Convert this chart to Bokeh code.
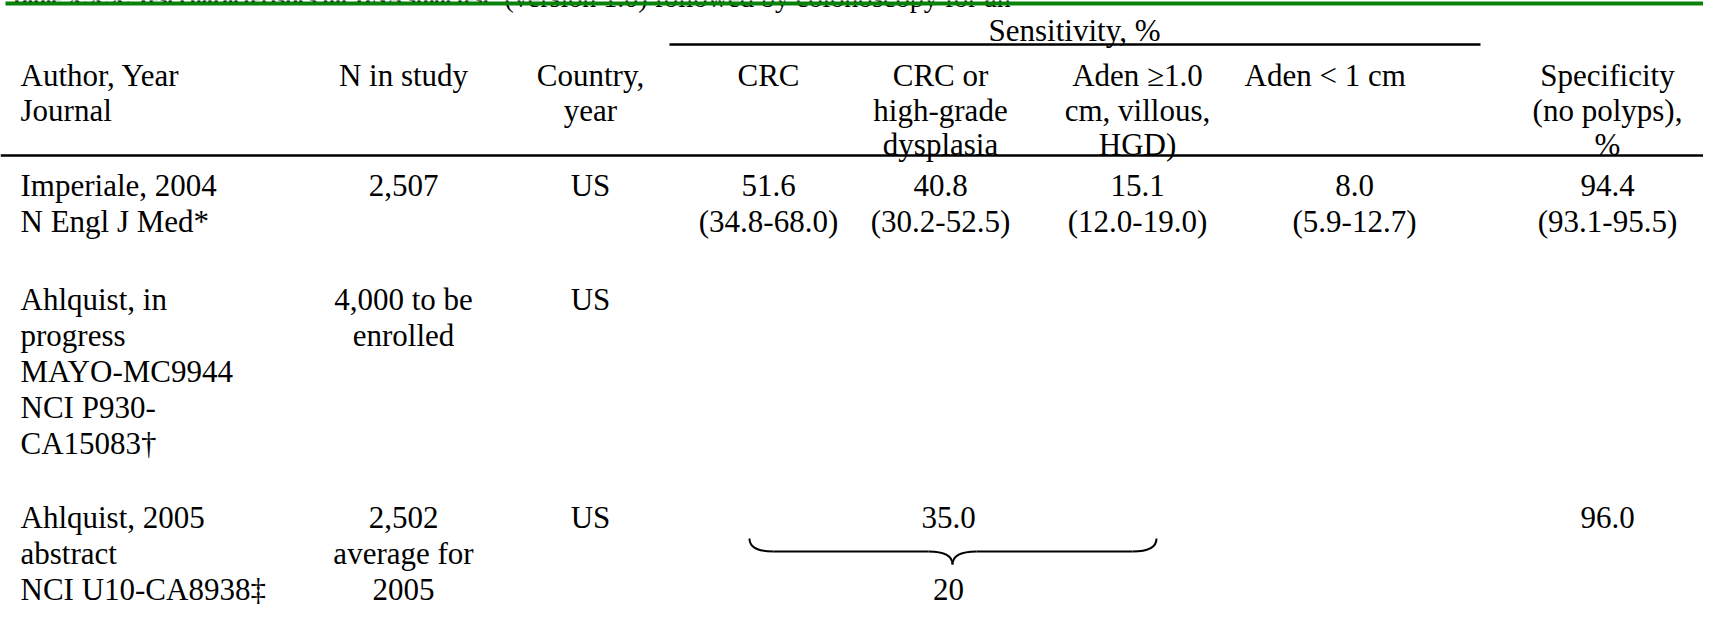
from bokeh.plotting import figure
from bokeh.models import Range1d, ColumnDataSource
from bokeh.embed import file_html
from bokeh.resources import INLINE
from bokeh.core.properties import value

# ---------------- data (table contents) ----------------
title_bold = "Table X.X.X. Test characteristics for DNA stool test"
title_rest = "(version 1.0) followed by colonoscopy for an"

group_header = "Sensitivity, %"
col_headers = [
    ["Author, Year", "Journal"],
    ["N in study"],
    ["Country,", "year"],
    ["CRC"],
    ["CRC or", "high-grade", "dysplasia"],
    ["Aden \u22651.0", "cm, villous,", "HGD)"],
    ["Aden < 1 cm"],
    ["Specificity", "(no polyps),", "%"],
]

authors = [
    ["Imperiale, 2004", "N Engl J Med*"],
    ["Ahlquist, in", "progress", "MAYO-MC9944", "NCI P930-", "CA15083\u2020"],
    ["Ahlquist, 2005", "abstract", "NCI U10-CA8938\u2021"],
]
n_in_study = [["2,507"], ["4,000 to be", "enrolled"], ["2,502", "average for", "2005"]]
country = [["US"], ["US"], ["US"]]
crc = [["51.6", "(34.8-68.0)"], [], []]
crc_hgd = [["40.8", "(30.2-52.5)"], [], []]
aden_ge1 = [["15.1", "(12.0-19.0)"], [], []]
aden_lt1 = [["8.0", "(5.9-12.7)"], [], []]
specificity = [["94.4", "(93.1-95.5)"], [], ["96.0"]]
pooled_sens = "35.0"
pooled_n = "20"

# ---------------- layout (reference pixel coordinates) ----------------
W, H = 1703, 624
OX, OY = 8, 8


def X(v):
    return v - OX


def Y(v):
    return v - OY


FONT = value("Liberation Serif")
FS = "31px"

col_x = [28, 411, 598, 776, 948, 1145, 1362, 1615]
col_align = ["left"] + ["center"] * 7
header_x_override = {6: (1252, "left")}
header_base = [83, 117.5, 152]
row_base = [[193, 229], [307, 343, 379, 415, 451], [525, 561, 597]]

p = figure(width=W, height=H, x_range=Range1d(0, W), y_range=Range1d(H, 0),
           output_backend="svg", toolbar_location=None, min_border=0)
p.axis.visible = False
p.grid.visible = False
p.outline_line_color = None
p.background_fill_color = "white"
p.border_fill_color = "white"

cells = {"left": dict(x=[], y=[], text=[]), "center": dict(x=[], y=[], text=[])}


def add(x, y, t, align):
    cells[align]["x"].append(X(x))
    cells[align]["y"].append(Y(y))
    cells[align]["text"].append(t)


# header
add(1082, 38, group_header, "center")
for ci, lines in enumerate(col_headers):
    hx, ha = header_x_override.get(ci, (col_x[ci], col_align[ci]))
    for li, t in enumerate(lines):
        add(hx, header_base[li], t, ha)

# body
columns = [authors, n_in_study, country, crc, crc_hgd, aden_ge1, aden_lt1, specificity]
for ci, col in enumerate(columns):
    for ri, lines in enumerate(col):
        for li, t in enumerate(lines):
            add(col_x[ci], row_base[ri][li], t, col_align[ci])

# pooled values for the abstract row
add(956, row_base[2][0], pooled_sens, "center")
add(956, row_base[2][2], pooled_n, "center")

for align, d in cells.items():
    p.text(x="x", y="y", text="text", source=ColumnDataSource(d),
           text_font=FONT, text_font_size=FS, text_align=align,
           text_baseline="alphabetic", text_color="black")

# title (cut off at the top of the page, as in the source)
p.text(x=[X(17)], y=[Y(5)], text=[title_bold], text_font=FONT, text_font_size="22px",
       text_font_style="bold", text_baseline="alphabetic", text_color="black")
p.text(x=[X(512)], y=[Y(5)], text=[title_rest], text_font=FONT, text_font_size="28px",
       text_baseline="alphabetic", text_color="black")

# rules
p.segment(x0=[X(13)], y0=[Y(11)], x1=[X(1719)], y1=[Y(11)], line_color="#088208", line_width=4)
p.segment(x0=[X(677)], y0=[Y(52)], x1=[X(1488)], y1=[Y(52)], line_color="black", line_width=2.5)
p.segment(x0=[X(8)], y0=[Y(163)], x1=[X(1719)], y1=[Y(163)], line_color="black", line_width=2.5)

# curly brace under the pooled sensitivity
xl, xr, xm = 757, 1164, 960
yt, ym, yc = 546, 559, 572
r = 24
qx0 = [xl, xm - r, xm + r, xr]
qy0 = [yt, ym, ym, yt]
qcx = [xl, xm, xm, xr]
qcy = [ym, ym, ym, ym]
qx1 = [xl + r, xm, xm, xr - r]
qy1 = [ym, yc, yc, ym]
p.quadratic(x0=[X(v) for v in qx0], y0=[Y(v) for v in qy0],
            x1=[X(v) for v in qx1], y1=[Y(v) for v in qy1],
            cx=[X(v) for v in qcx], cy=[Y(v) for v in qcy],
            line_color="black", line_width=2)
p.segment(x0=[X(xl + r), X(xm + r)], y0=[Y(ym), Y(ym)],
          x1=[X(xm - r), X(xr - r)], y1=[Y(ym), Y(ym)],
          line_color="black", line_width=2)

open("out.html", "w").write(file_html(p, INLINE))
